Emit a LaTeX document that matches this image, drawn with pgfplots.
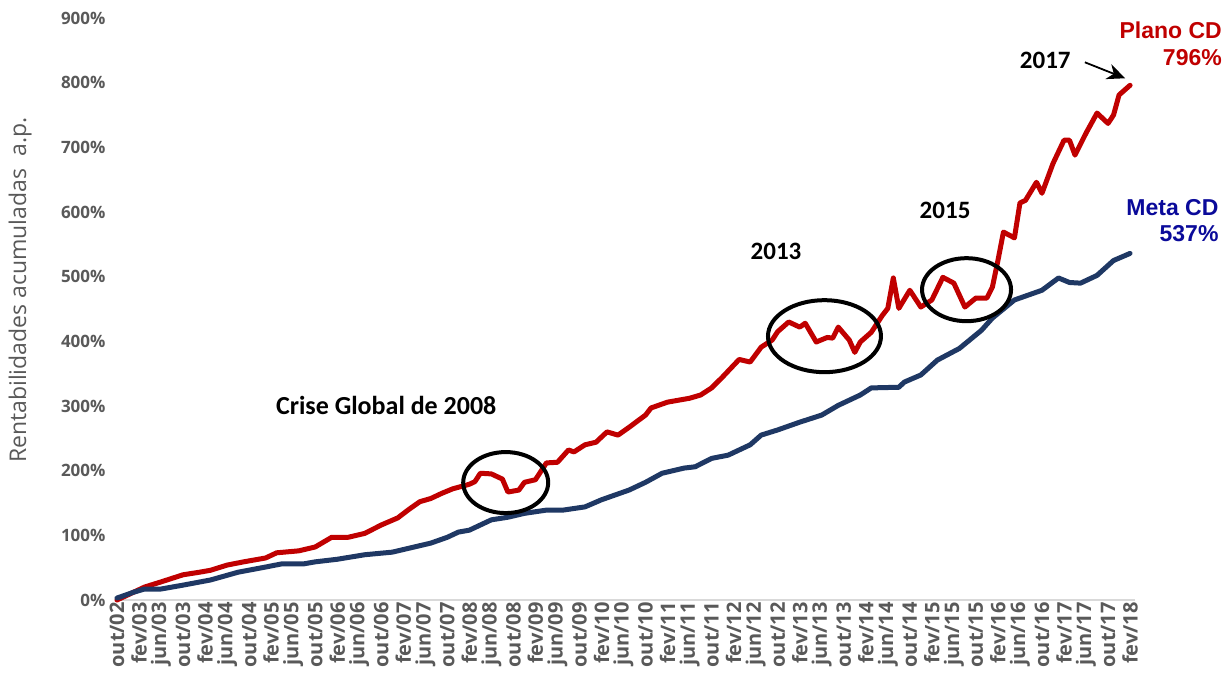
\documentclass[border=0pt]{standalone}
\usepackage{fontspec}
\usepackage{pgfplots}
\pgfplotsset{compat=1.18}
\usetikzlibrary{arrows.meta}
\newfontfamily\opensans{Open Sans}
\newfontfamily\carlito{Carlito}
\newfontfamily\libsans{Liberation Sans}
\definecolor{planored}{HTML}{C00000}
\definecolor{metanavy}{HTML}{1F3864}
\definecolor{metalabel}{HTML}{0A0A9A}
\definecolor{tickgray}{HTML}{595959}

\pgfplotstableread{
m v
0 0
2 8
5 20
8 28
12 39
15 43
17 46
20 54
23 59
27 65
29 73
33 76
36 82
39 97
42 97
45 103
48 116
51 127
53 140
55 152
57 157
59 165
61 172
64 179
65 183
66 196
68 195
70 187
71 167
73 170
74 182
76 186
78 212
80 213
82 232
83 229
85 240
87 244
89 260
91 255
93 267
96 286
97 297
100 306
102 309
104 312
106 317
108 328
110 345
113 372
115 368
117 391
119 402
120 415
122 430
124 422
125 428
127 399
129 406
130 405
131 422
133 402
134 383
135 399
137 414
139 440
140 451
141 498
142 451
144 479
146 453
148 464
150 499
152 490
154 453
156 467
158 467
159 484
160 525
161 569
163 560
164 614
165 618
167 646
168 629
170 675
172 711
173 711
174 688
176 722
178 753
180 737
181 750
182 781
184 796
}\plano

\pgfplotstableread{
m v
0 3
3 12
5 17
8 17
12 23
17 31
22 43
27 51
30 56
34 56
36 59
40 63
45 70
50 74
54 82
57 88
60 97
62 105
64 108
68 124
71 128
74 134
78 139
81 139
85 144
88 155
93 170
96 182
99 196
103 204
105 206
108 219
111 224
115 240
117 255
120 263
124 275
128 286
131 301
135 317
137 328
142 329
143 337
146 348
149 371
153 389
157 417
159 436
163 464
168 479
171 498
173 491
175 490
178 502
181 525
184 536
}\meta

\begin{document}
\begin{tikzpicture}
\begin{axis}[
  scale only axis, width=1020pt, height=582pt,
  xmin=-0.36, xmax=184.9, ymin=0, ymax=900,
  axis x line*=bottom, axis y line*=left,
  x axis line style={-, draw=black!15, line width=1.5pt},
  y axis line style={draw=none},
  major tick length=0pt,
  xtick={0,4,...,184},
  xticklabels={out/02,fev/03,jun/03,out/03,fev/04,jun/04,out/04,fev/05,jun/05,out/05,fev/06,jun/06,out/06,fev/07,jun/07,out/07,fev/08,jun/08,out/08,fev/09,jun/09,out/09,fev/10,jun/10,out/10,fev/11,jun/11,out/11,fev/12,jun/12,out/12,fev/13,jun/13,out/13,fev/14,jun/14,out/14,fev/15,jun/15,out/15,fev/16,jun/16,out/16,fev/17,jun/17,out/17,fev/18},
  ytick={0,100,...,900},
  yticklabels={0\%,100\%,200\%,300\%,400\%,500\%,600\%,700\%,800\%,900\%},
  xticklabel style={rotate=90, anchor=east, font=\opensans\bfseries\fontsize{20}{20}\selectfont, text=tickgray, inner sep=2pt},
  yticklabel style={font=\opensans\bfseries\fontsize{17}{17}\selectfont, text=tickgray, xshift=-6pt},
  clip=false,
]
\addplot[draw=planored, line width=5pt, line join=round, line cap=round] table[x=m, y=v] {\plano};
\addplot[draw=metanavy, line width=5pt, line join=round, line cap=round] table[x=m, y=v] {\meta};

\draw[line width=4pt] (axis cs:70.6,181.6) ellipse [x radius=42.5pt, y radius=30.5pt];
\draw[line width=4pt] (axis cs:128.5,408) ellipse [x radius=56.5pt, y radius=36pt];
\draw[line width=4pt] (axis cs:154.3,479.9) ellipse [x radius=44.5pt, y radius=31.5pt];

\node[font=\carlito\bfseries\fontsize{26}{26}\selectfont] at (axis cs:48.9,301.4) {Crise Global de 2008};
\node[font=\carlito\bfseries\fontsize{25}{25}\selectfont] at (axis cs:119.7,539.4) {2013};
\node[font=\carlito\bfseries\fontsize{25}{25}\selectfont] at (axis cs:150.4,602.8) {2015};
\node[font=\carlito\bfseries\fontsize{25}{25}\selectfont] at (axis cs:168.6,834.6) {2017};
\draw[-{Stealth[length=18pt,width=16pt]}, line width=1.8pt] (axis cs:175.8,831.5) -- (axis cs:183.1,806.8);

\node[anchor=east, font=\libsans\bfseries\fontsize{23}{23}\selectfont, text=planored] at (axis cs:201.3,881) {Plano CD};
\node[anchor=east, font=\libsans\bfseries\fontsize{23}{23}\selectfont, text=planored] at (axis cs:201.3,839.3) {796\%};
\node[anchor=east, font=\libsans\bfseries\fontsize{23}{23}\selectfont, text=metalabel] at (axis cs:200.7,607.4) {Meta CD};
\node[anchor=east, font=\libsans\bfseries\fontsize{23}{23}\selectfont, text=metalabel] at (axis cs:200.7,567.2) {537\%};

\node[rotate=90, font=\opensans\fontsize{23}{23}\selectfont, text=tickgray] at (axis cs:-17.6,479) {Rentabilidades acumuladas\ \ a.p.};
\end{axis}
\path[use as bounding box] ([shift={(-115pt,-81pt)}]current axis.south west) rectangle ([shift={(1115pt,600pt)}]current axis.south west);
\end{tikzpicture}
\end{document}
